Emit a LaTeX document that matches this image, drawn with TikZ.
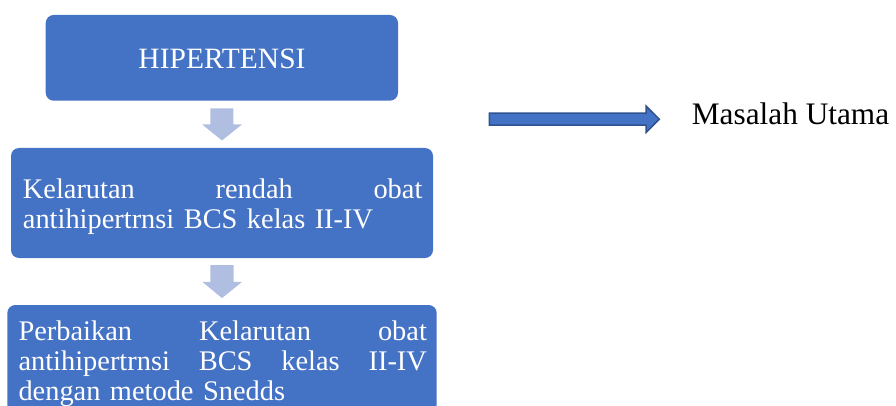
\documentclass[tikz,border=0pt]{standalone}
\usepackage{fontspec}
\setmainfont{Liberation Serif}
\usetikzlibrary{calc}
\definecolor{boxblue}{RGB}{68,114,196}
\definecolor{lightarrow}{RGB}{176,190,226}
\definecolor{darkedge}{RGB}{47,82,143}
\tikzset{
  bluebox/.style={rectangle, rounded corners=8pt, fill=boxblue, draw=none, inner sep=0pt},
  boxtext/.style={text=white, inner sep=0pt, font=\fontsize{28.4}{30}\selectfont},
  dnarrow/.style={fill=lightarrow, draw=none},
  rarrow/.style={fill=boxblue, draw=darkedge, line width=1.5pt, line join=miter},
}
\begin{document}
\begin{tikzpicture}[x=1pt,y=-1pt]
\useasboundingbox (0,0) rectangle (896,406);
\clip (0,0) rectangle (896,406);
% boxes
\node[bluebox, minimum width=352.3pt, minimum height=85.7pt] (b1) at (221.85,57.85) {};
\node[bluebox, minimum width=422pt, minimum height=110pt] (b2) at (222,203) {};
\node[bluebox, minimum width=429.4pt, minimum height=130pt] (b3) at (222,370) {};
% texts
\node[boxtext, anchor=base, font=\fontsize{29.5}{30}\selectfont] (t1) at (222,68.3) {HIPERTENSI};
\node[boxtext, anchor=base west, text width=399.5pt, align=left] (t2) at (22.7,198)
  {\leavevmode\hbox to 399.5pt{Kelarutan\hfill rendah\hfill obat}\\antihipertrnsi BCS kelas II-IV};
\node[boxtext, anchor=base west, text width=408.4pt, align=left] (t3) at (18.3,340.7)
  {\leavevmode\hbox to 408.4pt{Perbaikan\hfill Kelarutan\hfill obat}\\\leavevmode\hbox to 408.4pt{antihipertrnsi\hfill BCS\hfill kelas\hfill II-IV}\\dengan metode Snedds};
% down block arrows
\coordinate (a1s) at ($(b1.south)+(0,7.6)$);
\coordinate (a1t) at ($(b2.north)+(0,-7.3)$);
\fill[dnarrow] (a1s) ++(-11.6,0) -- ++(23.2,0) -- ++(0,16) -- ++(8.4,0) -- (a1t) -- ($(a1s)+(-19.6,16)$) -- ++(8,0) -- cycle;
\coordinate (a2s) at ($(b2.south)+(0,7)$);
\coordinate (a2t) at ($(b3.north)+(0,-6.7)$);
\fill[dnarrow] (a2s) ++(-11.6,0) -- ++(23.2,0) -- ++(0,16.7) -- ++(8.4,0) -- (a2t) -- ($(a2s)+(-19.6,16.7)$) -- ++(8,0) -- cycle;
% right block arrow and label
\node[anchor=base west, inner sep=0pt, font=\fontsize{31.3}{32}\selectfont] (lbl) at (691.7,125) {Masalah Utama};
\coordinate (ra) at (489.3,119.2);
\draw[rarrow] (ra) ++(0,-6) -- (646,113.2) -- (646,106) -- (659.3,119.2) -- (646,132.6) -- (646,125.2) -- ($(ra)+(0,6)$) -- cycle;
\end{tikzpicture}
\end{document}
